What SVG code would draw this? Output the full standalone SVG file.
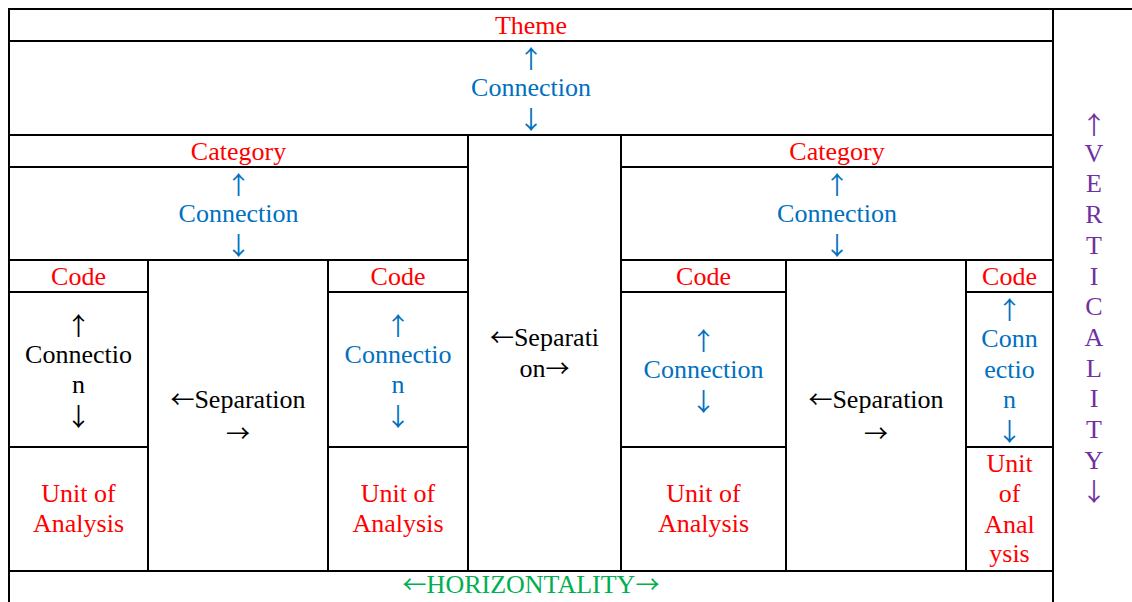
<svg xmlns="http://www.w3.org/2000/svg" width="1132" height="602" viewBox="0 0 1132 602">
<style>
rect.c{fill:#fff;stroke:#000;stroke-width:2}
line.b{stroke:#000;stroke-width:2}
text{font-family:'Liberation Serif','Times New Roman',serif;font-size:26px;text-anchor:middle}
.a{font-family:'Noto Sans CJK SC','Liberation Serif',serif;font-size:25px}
.h{font-family:'Noto Sans CJK SC','Liberation Serif',serif;font-size:24px}
.r{fill:#FF0000}.bl{fill:#0070C0}.k{fill:#000}.g{fill:#00B050}.p{fill:#7030A0}
</style>
<rect width="1132" height="602" fill="#fff"/>
<g id="theme"><rect class="c" x="9" y="9" width="1044" height="32"/><text class="r" x="531" y="34">Theme</text></g>
<g id="theme-connection"><rect class="c" x="9" y="41" width="1044" height="94"/>
<text class="bl"><tspan class="a" x="531" y="68">↑</tspan><tspan x="531" y="96.3">Connection</tspan><tspan class="a" x="531" y="129">↓</tspan></text></g>
<g id="category-left"><rect class="c" x="9" y="135" width="459" height="32"/><text class="r" x="238.5" y="160">Category</text></g>
<g id="category-left-connection"><rect class="c" x="9" y="167" width="459" height="93"/>
<text class="bl"><tspan class="a" x="238.5" y="194">↑</tspan><tspan x="238.5" y="222.2">Connection</tspan><tspan class="a" x="238.5" y="255">↓</tspan></text></g>
<g id="separation-center"><rect class="c" x="468" y="135" width="153" height="436"/>
<text class="k"><tspan x="544.5" y="345.5"><tspan class="h">←</tspan>Separati</tspan><tspan x="544.5" y="377">on<tspan class="h">→</tspan></tspan></text></g>
<g id="category-right"><rect class="c" x="621" y="135" width="432" height="32"/><text class="r" x="837" y="160">Category</text></g>
<g id="category-right-connection"><rect class="c" x="621" y="167" width="432" height="93"/>
<text class="bl"><tspan class="a" x="837" y="194">↑</tspan><tspan x="837" y="222.2">Connection</tspan><tspan class="a" x="837" y="255">↓</tspan></text></g>

<g id="code-1"><rect class="c" x="9" y="260" width="139" height="32"/><text class="r" x="78.5" y="285">Code</text></g>
<g id="connection-1"><rect class="c" x="9" y="292" width="139" height="155"/>
<text class="k"><tspan class="a" x="78.5" y="334.5">↑</tspan><tspan x="78.5" y="362.7">Connectio</tspan><tspan x="78.5" y="393.2">n</tspan><tspan class="a" x="78.5" y="425.5">↓</tspan></text></g>
<g id="unit-1"><rect class="c" x="9" y="447" width="139" height="124"/>
<text class="r"><tspan x="78.5" y="501.7">Unit of</tspan><tspan x="78.5" y="532">Analysis</tspan></text></g>

<g id="separation-left"><rect class="c" x="148" y="260" width="180" height="311"/>
<text class="k"><tspan x="238" y="408.3"><tspan class="h">←</tspan>Separation</tspan><tspan class="h" x="238" y="441.5">→</tspan></text></g>

<g id="code-2"><rect class="c" x="328" y="260" width="140" height="32"/><text class="r" x="398" y="285">Code</text></g>
<g id="connection-2"><rect class="c" x="328" y="292" width="140" height="155"/>
<text class="bl"><tspan class="a" x="398" y="334.5">↑</tspan><tspan x="398" y="362.7">Connectio</tspan><tspan x="398" y="393.2">n</tspan><tspan class="a" x="398" y="425.5">↓</tspan></text></g>
<g id="unit-2"><rect class="c" x="328" y="447" width="140" height="124"/>
<text class="r"><tspan x="398" y="501.7">Unit of</tspan><tspan x="398" y="532">Analysis</tspan></text></g>

<g id="code-3"><rect class="c" x="621" y="260" width="165" height="32"/><text class="r" x="703.5" y="285">Code</text></g>
<g id="connection-3"><rect class="c" x="621" y="292" width="165" height="155"/>
<text class="bl"><tspan class="a" x="703.5" y="349.5">↑</tspan><tspan x="703.5" y="378">Connection</tspan><tspan class="a" x="703.5" y="410.5">↓</tspan></text></g>
<g id="unit-3"><rect class="c" x="621" y="447" width="165" height="124"/>
<text class="r"><tspan x="703.5" y="501.7">Unit of</tspan><tspan x="703.5" y="532">Analysis</tspan></text></g>

<g id="separation-right"><rect class="c" x="786" y="260" width="180" height="311"/>
<text class="k"><tspan x="876" y="408.3"><tspan class="h">←</tspan>Separation</tspan><tspan class="h" x="876" y="441.5">→</tspan></text></g>

<g id="code-4"><rect class="c" x="966" y="260" width="87" height="32"/><text class="r" x="1009.5" y="285">Code</text></g>
<g id="connection-4"><rect class="c" x="966" y="292" width="87" height="155"/>
<text class="bl"><tspan class="a" x="1009.5" y="318.5">↑</tspan><tspan x="1009.5" y="346.7">Conn</tspan><tspan x="1009.5" y="377.5">ectio</tspan><tspan x="1009.5" y="408.3">n</tspan><tspan class="a" x="1009.5" y="441">↓</tspan></text></g>
<g id="unit-4"><rect class="c" x="966" y="447" width="87" height="124"/>
<text class="r"><tspan x="1009.5" y="471.7">Unit</tspan><tspan x="1009.5" y="501.7">of</tspan><tspan x="1009.5" y="532.5">Anal</tspan><tspan x="1009.5" y="562">ysis</tspan></text></g>

<g id="horizontality"><rect class="c" x="9" y="571" width="1044" height="50"/>
<text class="g" x="531" y="593.3"><tspan class="h">←</tspan>HORIZONTALITY<tspan class="h">→</tspan></text></g>

<g id="verticality"><line class="b" x1="1053" y1="9" x2="1132" y2="9"/>
<text class="p"><tspan class="a" x="1094" y="133.5">↑</tspan><tspan x="1094" y="161.7">V</tspan><tspan x="1094" y="192.4">E</tspan><tspan x="1094" y="223.1">R</tspan><tspan x="1094" y="253.8">T</tspan><tspan x="1094" y="284.5">I</tspan><tspan x="1094" y="315.2">C</tspan><tspan x="1094" y="345.9">A</tspan><tspan x="1094" y="376.6">L</tspan><tspan x="1094" y="407.3">I</tspan><tspan x="1094" y="438">T</tspan><tspan x="1094" y="468.7">Y</tspan><tspan class="a" x="1094" y="501">↓</tspan></text></g>
<g id="connectors"></g>
</svg>
